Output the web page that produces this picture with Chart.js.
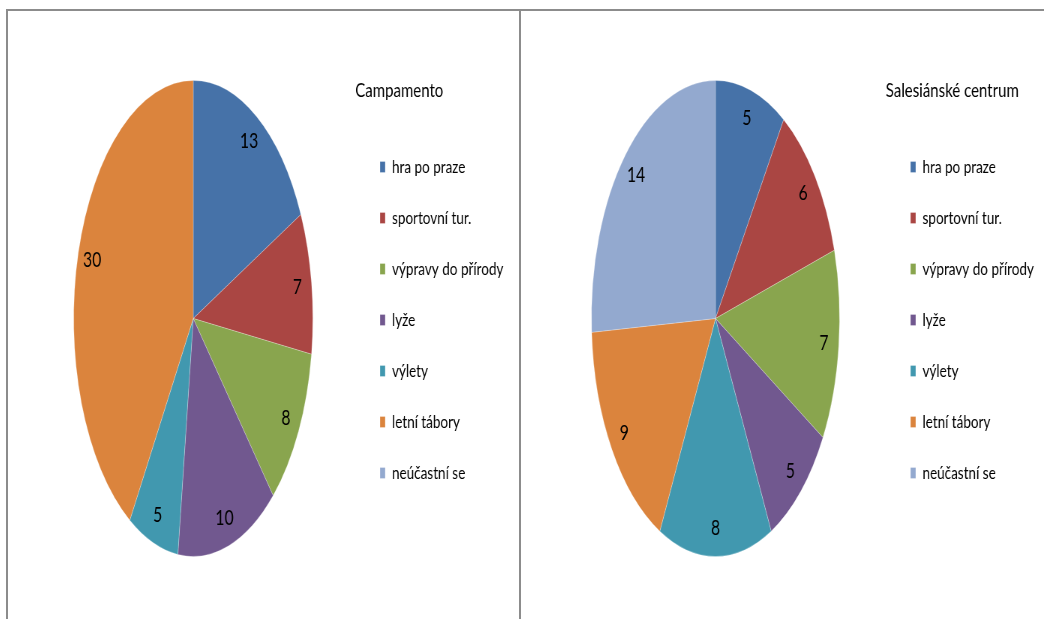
<!DOCTYPE html>
<html>
<head>
<meta charset="utf-8">
<script src="https://cdn.jsdelivr.net/npm/chart.js@4/dist/chart.umd.min.js"></script>
<style>
    body { margin: 0; background: #fff; }
    #page { position: relative; width: 1044px; height: 619px; overflow: hidden; }
    .line { position: absolute; background: #8c8c8c; }
    .panel { position: absolute; top: 11px; transform: scaleX(0.75); transform-origin: 0 0; }
</style>
</head>
<body>
<div id="page">
    <div class="line" style="left:6px;top:9px;width:1038px;height:2px"></div>
    <div class="line" style="left:6px;top:9px;width:2px;height:610px"></div>
    <div class="line" style="left:519px;top:9px;width:2px;height:610px"></div>
    <div class="panel" style="left:8px"><canvas id="campamento" width="720" height="608"></canvas></div>
    <div class="panel" style="left:522px"><canvas id="centrum" width="720" height="608"></canvas></div>
</div>
<script>
// categories shared by both pies
const categories = ['hra po praze', 'sportovní tur.', 'výpravy do přírody', 'lyže', 'výlety', 'letní tábory', 'neúčastní se'];
const campamentoValues = [13, 7, 8, 10, 5, 30, 0];
const centrumValues = [5, 6, 7, 5, 8, 9, 14];

const sliceColors = ['#4672A8', '#AA4643', '#89A54E', '#71588F', '#4198AF', '#DB843D', '#93A9CF'];

const legendFont = 18;
const legendPadding = 33;
const legendBox = 7;

// width the legend box will take, so it can be put where it belongs
function legendWidth() {
    let ctx = document.createElement('canvas').getContext('2d');
    ctx.font = legendFont + 'px Lato';
    let widest = Math.max(...categories.map(c => ctx.measureText(c).width));
    return legendPadding + legendBox + legendFont / 2 + widest + 10;
}

// pie is drawn as a circle and squeezed sideways, then labels are put inside the slices
const ellipsePie = {
    id: 'ellipsePie',
    beforeDatasetsDraw(chart, args, opts) {
        let arc = chart.getDatasetMeta(0).data[0];
        let ctx = chart.ctx;
        ctx.save();
        ctx.translate(arc.x, arc.y);
        ctx.scale(opts.scaleX, 1);
        ctx.translate(-arc.x, -arc.y);
    },
    afterDatasetsDraw(chart, args, opts) {
        let ctx = chart.ctx;
        ctx.restore();
        let values = chart.data.datasets[0].data;
        ctx.save();
        ctx.font = '21px Lato';
        ctx.fillStyle = '#000';
        ctx.textAlign = 'center';
        ctx.textBaseline = 'middle';
        chart.getDatasetMeta(0).data.forEach(function (arc, i) {
            if (!values[i]) return;
            let mid = (arc.startAngle + arc.endAngle) / 2;
            let r = arc.outerRadius * 0.88;
            ctx.fillText(values[i], arc.x + Math.cos(mid) * r * opts.scaleX, arc.y + Math.sin(mid) * r);
        });
        ctx.restore();
    }
};

function makePie(id, title, values, legendLeft, padLeft, scaleX) {
    let canvas = document.getElementById(id);
    let padRight = canvas.width - legendLeft - legendWidth();
    return new Chart(canvas, {
        type: 'pie',
        data: {
            labels: categories,
            datasets: [{
                data: values,
                backgroundColor: sliceColors,
                borderColor: 'rgba(255,255,255,0.5)',
                borderWidth: 0.6,
                radius: 238
            }]
        },
        plugins: [ellipsePie],
        options: {
            responsive: false,
            animation: false,
            events: [],
            layout: { padding: { left: padLeft, right: padRight, top: 50, bottom: 43 } },
            plugins: {
                ellipsePie: { scaleX: scaleX },
                tooltip: { enabled: false },
                legend: {
                    position: 'right',
                    align: 'start',
                    title: {
                        display: true,
                        text: title,
                        color: '#000',
                        position: 'start',
                        font: { family: 'Lato', size: 20, lineHeight: 1.2 },
                        padding: { top: 20, bottom: 20 }
                    },
                    labels: {
                        color: '#000',
                        font: { family: 'Lato', size: legendFont },
                        boxWidth: legendBox,
                        boxHeight: 11,
                        padding: legendPadding
                    }
                }
            }
        }
    });
}

makePie('campamento', 'Campamento', campamentoValues, 463, 31, 0.67);
makePie('centrum', 'Salesiánské centrum', centrumValues, 485, 31, 0.695);
</script>
</body>
</html>
